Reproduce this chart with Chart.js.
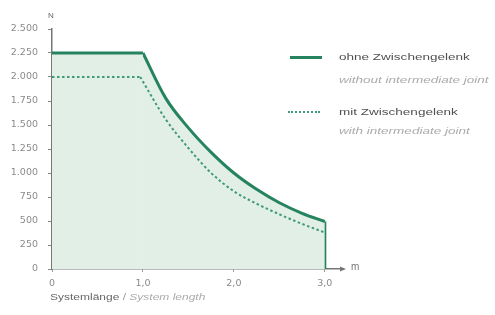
<!DOCTYPE html>
<html>
<head>
<meta charset="utf-8">
<script src="https://cdn.jsdelivr.net/npm/chart.js@4.4.1/dist/chart.umd.min.js"></script>
<style>
  html, body { margin:0; padding:0; background:#fff; }
  #wrap { position:relative; width:495px; height:315px; overflow:hidden; font-family:Arial, "Liberation Sans", sans-serif; }
  canvas { position:absolute; left:0; top:0; }
  .txt { position:absolute; white-space:nowrap; transform-origin:left center; transform:scaleX(1.38); line-height:1; }
  .main { color:#505050; font-size:9.8px; }
  .sub { color:#ababab; font-size:9.8px; font-style:italic; }
  .swatch { position:absolute; width:32px; height:0; }
</style>
</head>
<body>
<div id="wrap">
  <canvas id="c" width="495" height="315"></canvas>
  <div class="txt main" style="left:48px;top:12px;transform:none;font-size:8px;color:#666">N</div>
  <div class="txt main" style="left:351px;top:262px;transform:none;font-size:10px;color:#777">m</div>

  <div class="swatch" style="left:290px;top:56px;border-top:3px solid #25845f"></div>
  <div class="txt main" style="left:339px;top:52px">ohne Zwischengelenk</div>
  <div class="txt sub" style="left:339px;top:75px">without intermediate joint</div>

  <div class="swatch" style="left:288px;top:111px;border-top:2px dotted #3f9a77"></div>
  <div class="txt main" style="left:339px;top:107px">mit Zwischengelenk</div>
  <div class="txt sub" style="left:339px;top:126px">with intermediate joint</div>

  <div class="txt main" style="left:50px;top:293px;font-size:8.7px;color:#666">Systemlänge <span style="color:#999">/</span> <span style="color:#ababab;font-style:italic">System length</span></div>
</div>
<script>
// Systemlänge (m) / Kraft (N)
const lengthSolid  = [0, 1.0, 1.25, 1.5, 1.75, 2.0, 2.25, 2.5, 2.75, 3.0];
const forceSolid   = [2250, 2250, 1780, 1470, 1215, 1000, 830, 690, 580, 495];
const lengthDashed = [0, 0.97, 1.25, 1.5, 1.75, 2.0, 2.25, 2.5, 2.75, 3.0];
const forceDashed  = [2000, 2000, 1560, 1260, 1000, 810, 680, 570, 470, 380];
const xTicks = [0, 1, 2, 3];
const yTicks = [0, 250, 500, 750, 1000, 1250, 1500, 1750, 2000, 2250, 2500];

const green = '#25845f', greenLight = '#3f9a77', fillCol = '#e2efe7';
const pts = (xs, ys) => xs.map((x, i) => ({x: x, y: ys[i]}));

const solidPts = pts(lengthSolid, forceSolid);
const dashedPts = pts(lengthDashed, forceDashed);
const last = solidPts[solidPts.length - 1];

// arrow at end of x axis
const arrowPlugin = {
  id: 'arrow',
  afterDraw(chart) {
    const ctx = chart.ctx, a = chart.chartArea;
    ctx.save();
    ctx.fillStyle = '#777';
    ctx.beginPath();
    ctx.moveTo(a.right + 3, a.bottom);
    ctx.lineTo(a.right - 3, a.bottom - 2.5);
    ctx.lineTo(a.right - 3, a.bottom + 2.5);
    ctx.closePath();
    ctx.fill();
    ctx.restore();
  }
};

new Chart(document.getElementById('c'), {
  type: 'line',
  data: {
    datasets: [
      { data: dashedPts.slice(0, 2), borderColor: greenLight, borderWidth: 2, borderDash: [2.5, 2.5], fill: false, tension: 0, order: 0 },
      { data: dashedPts.slice(1), borderColor: greenLight, borderWidth: 2, borderDash: [2.5, 2.5], fill: false, cubicInterpolationMode: 'monotone', order: 0 },
      { data: solidPts.slice(0, 2), borderColor: green, borderWidth: 3, backgroundColor: fillCol, fill: 'origin', tension: 0, order: 1 },
      { data: solidPts.slice(1), borderColor: green, borderWidth: 3, backgroundColor: fillCol, fill: 'origin', cubicInterpolationMode: 'monotone', order: 1 },
      { data: [last, {x: last.x, y: 0}], borderColor: green, borderWidth: 3, fill: false, tension: 0, order: 1 }
    ]
  },
  options: {
    responsive: false,
    animation: false,
    events: [],
    layout: { padding: { top: 29, right: 152, left: 0, bottom: 0 } },
    elements: { point: { radius: 0 } },
    datasets: { line: { clip: false } },
    plugins: { legend: { display: false }, tooltip: { enabled: false }, filler: { propagate: false } },
    scales: {
      x: {
        type: 'linear', min: 0, max: 3.2,
        afterBuildTicks: s => { s.ticks = xTicks.map(v => ({value: v})); },
        afterFit: s => { s.height = 46; },
        border: { display: true, color: '#777', width: 1.5 },
        grid: { drawOnChartArea: false, drawTicks: true, tickLength: 3, color: '#999' },
        ticks: {
          color: '#8a8a8a', padding: 6,
          font: { family: 'DejaVu Sans', size: 9.5 },
          callback: v => v === 0 ? '0' : v.toFixed(1).replace('.', ',')
        }
      },
      y: {
        min: 0, max: 2500,
        afterBuildTicks: s => { s.ticks = yTicks.map(v => ({value: v})); },
        afterFit: s => { s.width = 52; },
        border: { display: true, color: '#777', width: 1.5 },
        grid: { drawOnChartArea: false, drawTicks: true, tickLength: 4, color: '#888' },
        ticks: {
          color: '#8a8a8a', padding: 10,
          font: { family: 'DejaVu Sans', size: 9.5 },
          callback: v => v.toLocaleString('de-DE')
        }
      }
    }
  },
  plugins: [arrowPlugin]
});
</script>
</body>
</html>
